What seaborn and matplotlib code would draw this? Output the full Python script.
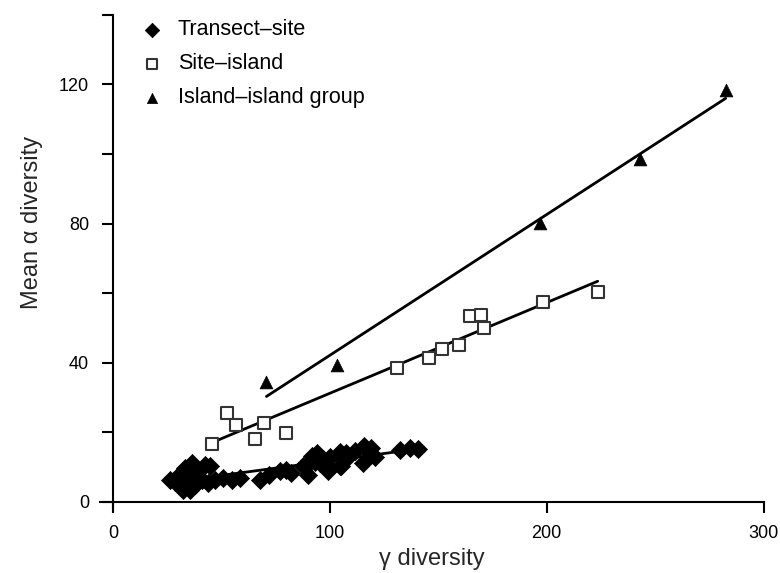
import numpy as np
import matplotlib
matplotlib.use("Agg")
import matplotlib.pyplot as plt
import seaborn as sns

# Data
# Transect-site (filled diamonds)
ts_gamma = [26.3, 30.1, 33.2, 36.3, 34.7, 42.4, 44.7, 32.4, 30.9, 35.5,
            37.8, 40.9, 43.9, 47.0, 50.8, 54.7, 28.6, 34.0, 38.6, 58.5,
            67.7, 72.0, 77.0, 80.0, 82.3, 87.7, 90.0, 91.6, 94.2, 96.9,
            95.4, 98.8, 100.3, 104.6, 104.9, 107.7, 93.1, 90.8, 99.2, 111.5,
            115.7, 118.4, 120.7, 115.3, 105.4, 132.3, 136.9, 140.7, 107.7, 119.2]
ts_alpha = [6.3, 7.3, 9.7, 11.1, 8.7, 10.6, 10.2, 3.5, 4.9, 3.5,
            4.9, 6.3, 5.4, 6.3, 6.8, 6.3, 5.8, 5.4, 7.8, 6.8,
            6.3, 7.8, 9.0, 9.2, 8.3, 10.2, 7.6, 13.2, 14.0, 12.3,
            11.1, 10.2, 13.0, 14.2, 10.2, 12.3, 11.6, 11.6, 8.9, 14.5,
            16.1, 14.0, 13.0, 11.1, 10.2, 14.8, 15.5, 15.2, 14.0, 15.5]

# Site-island (open squares)
si_gamma = [45.5, 52.4, 56.7, 65.6, 69.7, 80.0, 131.0, 145.8, 151.6, 159.6,
            164.5, 169.6, 171.1, 198.5, 223.5]
si_alpha = [16.7, 25.5, 22.2, 18.0, 22.6, 19.7, 38.6, 41.3, 43.9, 45.0,
            53.3, 53.8, 50.0, 57.6, 60.4]

# Island-island group (filled triangles)
ii_gamma = [70.8, 103.4, 197.0, 242.9, 282.5]
ii_alpha = [34.5, 39.4, 80.2, 98.7, 118.4]

sns.set_style("ticks", {'axes.edgecolor': 'black', 'text.color': 'black',
                        'xtick.color': 'black', 'ytick.color': 'black'})
plt.rcParams['font.family'] = ['Liberation Sans', 'DejaVu Sans']

fig = plt.figure(figsize=(7.8, 5.73), dpi=100)
ax = fig.add_axes([0.128, 0.112, 0.851, 0.862])

# fitted lines
for gx, gy in [(ts_gamma, ts_alpha), (si_gamma, si_alpha), (ii_gamma, ii_alpha)]:
    sns.regplot(x=np.array(gx), y=np.array(gy), ax=ax, scatter=False, ci=None,
                color='black', line_kws={'lw': 2, 'zorder': 2})

# points
sns.scatterplot(x=ts_gamma, y=ts_alpha, ax=ax, marker='D', s=85, color='black',
                edgecolor='black', linewidth=0.5, label='Transect\u2013site', zorder=3)
sns.scatterplot(x=si_gamma, y=si_alpha, ax=ax, marker='s', s=80, facecolor='white',
                edgecolor='#333333', linewidth=1.5, label='Site\u2013island', zorder=3)
sns.scatterplot(x=ii_gamma, y=ii_alpha, ax=ax, marker='^', s=85, color='black',
                edgecolor='black', linewidth=0.5, label='Island\u2013island group', zorder=3)

ax.set_xlim(-6, 300)
ax.set_ylim(-2, 140)
ax.spines['left'].set_position(('data', 0))
ax.spines['bottom'].set_position(('data', 0))
ax.spines['top'].set_visible(False)
ax.spines['right'].set_visible(False)
for s in ['left', 'bottom']:
    ax.spines[s].set_linewidth(1.5)

ax.set_xticks([0, 100, 200, 300])
ax.set_yticks(np.arange(0, 141, 20))
ax.set_yticklabels(['0', '', '40', '', '80', '', '120', ''])
ax.tick_params(axis='both', direction='out', length=8, width=1.5, labelsize=13,
               pad=9, colors='black')

ax.set_xlabel('\u03b3 diversity', fontsize=17, labelpad=4)
ax.set_ylabel('Mean \u03b1 diversity', fontsize=17, labelpad=4)
ax.yaxis.set_label_coords(-0.086, 0.58)

leg = ax.legend(loc='upper left', bbox_to_anchor=(0.017, 1.03), frameon=False,
                fontsize=15.5, handletextpad=0.2, labelspacing=0.6, markerscale=0.8)

fig.savefig('out.png', dpi=100)
